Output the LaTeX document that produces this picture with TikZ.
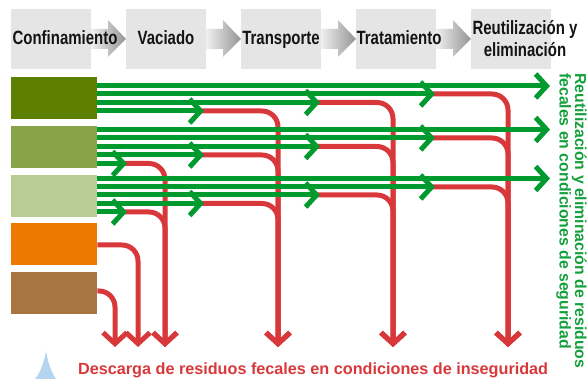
\documentclass[tikz,border=0pt]{standalone}
\usepackage{fontspec}
\setmainfont{Liberation Sans}
\newfontfamily\condfont{Liberation Sans}[FakeStretch=0.78]
\usetikzlibrary{arrows.meta}
\definecolor{hdrgray}{RGB}{229,229,229}
\definecolor{lgreen}{RGB}{0,154,46}
\definecolor{tgreen}{RGB}{20,160,60}
\definecolor{lred}{RGB}{217,56,58}
\definecolor{boxA}{RGB}{94,128,0}
\definecolor{boxB}{RGB}{135,165,72}
\definecolor{boxC}{RGB}{184,204,148}
\definecolor{boxD}{RGB}{239,120,0}
\definecolor{boxE}{RGB}{168,116,66}
\definecolor{dropc}{RGB}{180,212,239}
\begin{document}
\begin{tikzpicture}[x=1pt,y=-1pt,
  hdrbox/.style={fill=hdrgray, minimum width=80pt, minimum height=60pt, inner sep=0pt, anchor=north west},
  hdrtext/.style={font=\condfont\bfseries\fontsize{19.2}{22}\selectfont, text=black!92, inner sep=0pt, align=center},
  srcbox/.style={minimum width=86pt, minimum height=42pt, inner sep=0pt, anchor=north west},
  barb/.tip={Straight Barb[length=11pt,width=24pt]},
  greenln/.style={draw=lgreen, line width=5pt, -barb},
  redln/.style={draw=lred, line width=5pt, rounded corners=16pt, -barb},
]
\useasboundingbox (0,0) rectangle (587,379);
% header boxes
\foreach \i in {1,...,5} {
  \node[hdrbox] (h\i) at ({11+115*(\i-1)},9) {};
}
% header arrows
\foreach \i in {0,...,3} {
  \shade[shift={(115*\i,0)}, left color=black!6, right color=black!42]
    (91,29) -- (108,29) -- (108,20) -- (126,39) -- (108,57) -- (108,49) -- (91,49) -- cycle;
}
\node[hdrtext, anchor=base] (t1) at (65,45) {Confinamiento};
\node[hdrtext, anchor=base] (t2) at (166,45) {Vaciado};
\node[hdrtext, anchor=base] (t3) at (281,45) {Transporte};
\node[hdrtext, anchor=base] (t4) at (399,45) {Tratamiento};
\node[hdrtext, anchor=base] (t5) at (525,57) {Reutilización y\\eliminación};
% source boxes
\node[srcbox, fill=boxA] (b1) at (11,77) {};
\node[srcbox, fill=boxB] (b2) at (11,126) {};
\node[srcbox, fill=boxC] (b3) at (11,174.5) {};
\node[srcbox, fill=boxD] (b4) at (11,223) {};
\node[srcbox, fill=boxE] (b5) at (11,272) {};
% column coordinates
\coordinate (c1) at (127,0);
\coordinate (c2) at (204,0);
\coordinate (c3) at (320,0);
\coordinate (c4) at (435,0);
\coordinate (cE) at (550,0);
\coordinate (v1) at (165,0);
\coordinate (v2) at (278,0);
\coordinate (v3) at (393,0);
\coordinate (v4) at (508,0);
\coordinate (vo) at (138,0);
\coordinate (vb) at (115,0);
\coordinate (bot) at (0,347);
% red lines
\foreach \y in {94,138,187} \draw[redln] (c4 |- 0,\y) ++(-6,0) -| (v4 |- bot);
\foreach \y in {102.5,146.5,195} \draw[redln] (c3 |- 0,\y) ++(-6,0) -| (v3 |- bot);
\foreach \y in {111,155,203.5} \draw[redln] (c2 |- 0,\y) ++(-6,0) -| (v2 |- bot);
\foreach \y in {163.5,212} \draw[redln] (c1 |- 0,\y) ++(-6,0) -| (v1 |- bot);
\draw[redln] (b4.east |- 0,245) -| (vo |- bot);
\draw[redln] (b5.east |- 0,291) -| (vb |- bot);
% green lines
\foreach \y in {86,129.5,178.5} \draw[greenln] (b1.east |- 0,\y) -- (cE |- 0,\y);
\foreach \y in {94,138,187} \draw[greenln] (b1.east |- 0,\y) -- (c4 |- 0,\y);
\foreach \y in {102.5,146.5,195} \draw[greenln] (b1.east |- 0,\y) -- (c3 |- 0,\y);
\foreach \y in {111,155,203.5} \draw[greenln] (b1.east |- 0,\y) -- (c2 |- 0,\y);
\foreach \y in {163.5,212} \draw[greenln] (b1.east |- 0,\y) -- (c1 |- 0,\y);
% right label
\node[rotate=-90, anchor=base west, align=left, inner sep=0pt, text=tgreen,
  font=\bfseries\fontsize{15.8}{15.5}\selectfont] (rt) at (559.5,73)
  {Reutilización y eliminación de residuos\\fecales en condiciones de seguridad};
% bottom label
\node[anchor=base west, inner sep=0pt, text=lred, font=\bfseries\fontsize{16.2}{16}\selectfont] (bt) at (78,375)
  {Descarga de residuos fecales en condiciones de inseguridad};
% drop
\fill[dropc] (46,351) .. controls (48,362) and (51,372) .. (56,379) -- (35,379) .. controls (41,372) and (44,362) .. (46,351) -- cycle;
\end{tikzpicture}
\end{document}
